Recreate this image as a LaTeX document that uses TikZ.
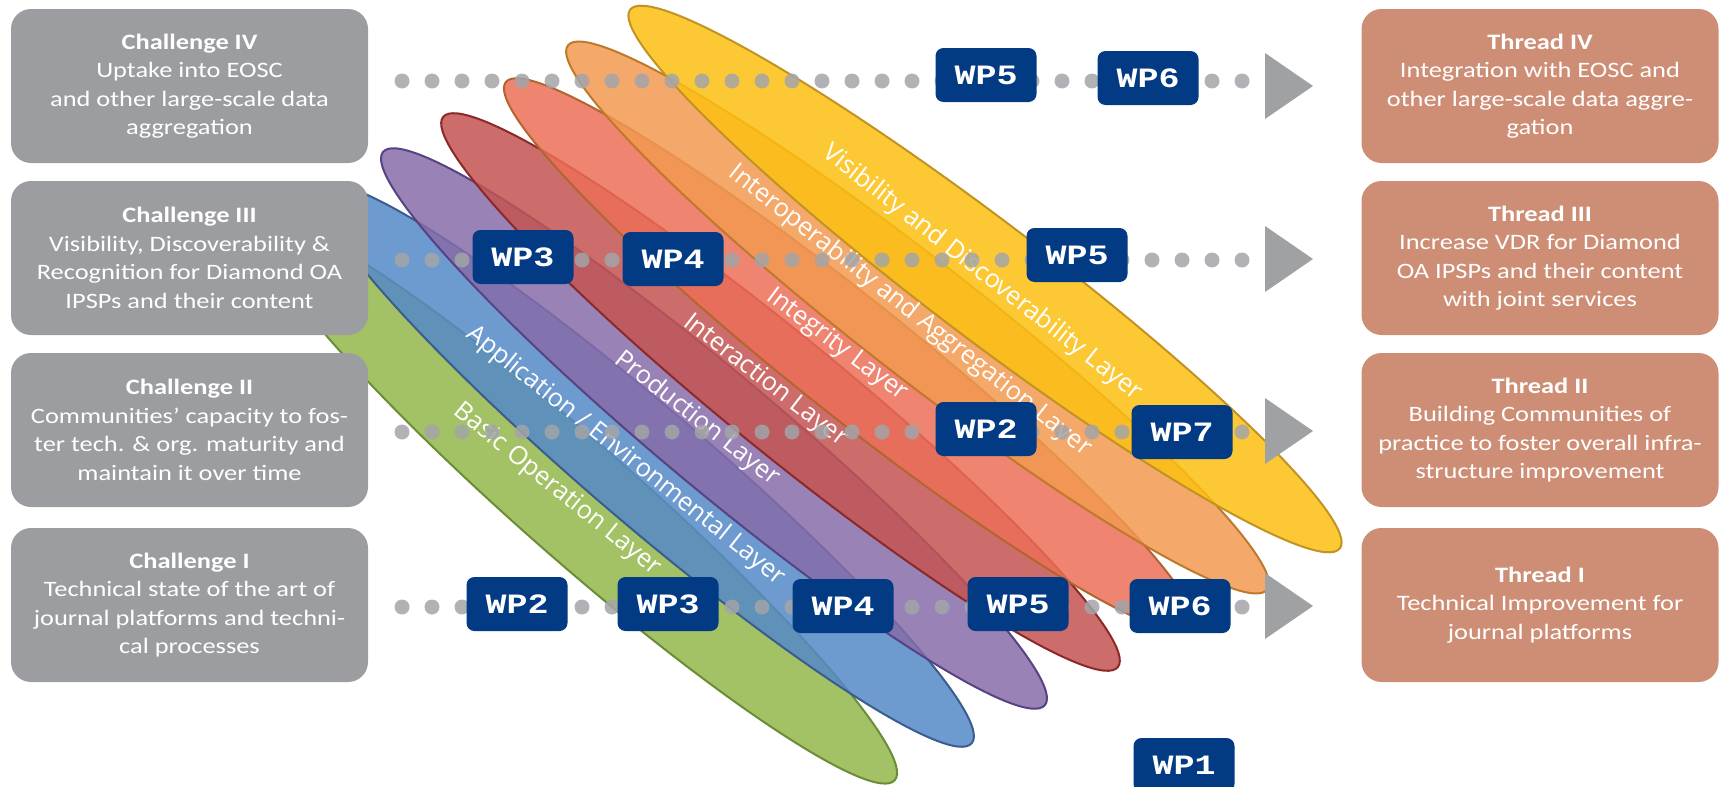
\documentclass[tikz,border=0pt]{standalone}
\usepackage{fontspec}
\setmainfont{Carlito}[FakeStretch=1.2]
\newfontfamily\layerfont{Open Sans}
\newfontfamily\wpfont{Liberation Mono}[FakeStretch=1.25]
\usetikzlibrary{shapes.geometric}

\definecolor{challengeGray}{HTML}{9B9DA0}
\definecolor{threadBrown}{HTML}{CE8E76}
\definecolor{wpBlue}{HTML}{023A84}
\definecolor{dotGray}{HTML}{A3A5A8}
\definecolor{arrowGray}{HTML}{A0A1A3}
\definecolor{layGreen}{HTML}{93B64A}
\definecolor{layGreenLine}{HTML}{6A8D36}
\definecolor{layBlue}{HTML}{5489C8}
\definecolor{layBlueLine}{HTML}{3A5C8E}
\definecolor{layPurple}{HTML}{866CA9}
\definecolor{layPurpleLine}{HTML}{574283}
\definecolor{layRed}{HTML}{C35452}
\definecolor{layRedLine}{HTML}{8C2828}
\definecolor{laySalmon}{HTML}{EC6E57}
\definecolor{laySalmonLine}{HTML}{B4652E}
\definecolor{layOrange}{HTML}{F29950}
\definecolor{layOrangeLine}{HTML}{BE792B}
\definecolor{layYellow}{HTML}{FCC011}
\definecolor{layYellowLine}{HTML}{C29222}

\begin{document}
\begin{tikzpicture}
[x=0.5pt,y=-0.5pt,%
  challengeDecorate/.style={shape=rectangle,rounded corners=10pt,fill=challengeGray,text=white,
    minimum width=178.5pt,minimum height=77pt,inner sep=0pt,align=center,
    font=\fontsize{11}{14.25}\selectfont},
  threadDecorate/.style={challengeDecorate,fill=threadBrown},
  layerDecorate/.style={shape=ellipse,inner sep=0pt,line width=1pt,fill opacity=0.85,minimum height=58pt},
  labelDecorate/.style={text=white,inner sep=0pt,font=\layerfont\fontsize{12.7}{14}\selectfont},
  wpDecorate/.style={shape=rectangle,rounded corners=4pt,fill=wpBlue,text=white,
    minimum width=50.5pt,minimum height=27pt,inner sep=0pt,
    font=\wpfont\bfseries\fontsize{14}{14}\selectfont},
  dotDecorate/.style={draw=dotGray,draw opacity=0.85,line width=7.5pt,line cap=round,
    dash pattern=on 0pt off 15pt},
  arrowDecorate/.style={shape=isosceles triangle,isosceles triangle stretches,fill=arrowGray,
    minimum width=33pt,minimum height=24pt,inner sep=0pt,outer sep=0pt,anchor=west}]
\useasboundingbox (0,0) rectangle (1720,787);
%% layers, bottom one first
\foreach \nodename/\x/\y/\len/\ang/\colour in {
  basic/577/501/423/41.3/layGreen, appl/646.5/465.5/427.7/40.5/layBlue,
  prod/714/428.5/431.3/39.9/layPurple, interac/780.5/392/435.3/39.2/layRed,
  integ/849/355/438.5/38.5/laySalmon, interop/917.5/317.5/443/37.9/layOrange,
  visib/985/279/445.5/37.2/layYellow}
{
  \node (\nodename) at (\x,\y) [layerDecorate,minimum width=\len pt,rotate=-\ang,
    fill=\colour,draw=\colour Line] {};
}
%% layer names
\foreach \nodename/\x/\y/\ang/\txt in {
  basicName/557/490/39/{Basic Operation Layer},
  applName/626/456/38.6/{Application / Environmental Layer},
  prodName/697/419/38.1/{Production Layer},
  interacName/765/381/37.6/{Interaction Layer},
  integName/837/345/36.9/{Integrity Layer},
  interopName/910/311/38.2/{Interoperability and Aggregation Layer},
  visibName/982/273/38/{Visibility and Discoverability Layer}}
{
  \node (\nodename) at (\x,\y) [labelDecorate,rotate=-\ang] {\txt};
}
%% challenges and threads
\foreach \nodename/\y/\title/\body in {
  chalIV/86/{Challenge IV}/{Uptake into EOSC\\and other large-scale data\\aggregation},
  chalIII/258/{Challenge III}/{Visibility, Discoverability \&\\Recognition for Diamond OA\\IPSPs and their content},
  chalII/430/{Challenge II}/{Communities’ capacity to fos-\\ter tech. \& org. maturity and\\maintain it over time},
  chalI/605/{Challenge I}/{Technical state of the art of\\journal platforms and techni-\\cal processes}}
{
  \node (\nodename) at (189.5,\y) [challengeDecorate] {\textbf{\title}\\\body};
}
\foreach \nodename/\y/\title/\body in {
  threadIV/86/{Thread IV}/{Integration with EOSC and\\other large-scale data aggre-\\gation},
  threadIII/258/{Thread III}/{Increase VDR for Diamond\\OA IPSPs and their content\\with joint services},
  threadII/430/{Thread II}/{Building Communities of\\practice to foster overall infra-\\structure improvement},
  threadI/605/{Thread I}/{Technical Improvement for\\journal platforms}}
{
  \node (\nodename) at (1540,\y) [threadDecorate] {\textbf{\title}\\\body};
}
%% dotted rows with arrow heads
\foreach \row/\y/\ay in {1/607/606, 2/432/431, 3/260/259, 4/81/86}
{
  \coordinate (start\row) at (402,\y);
  \node (arrow\row) at (1265,\ay) [arrowDecorate] {};
  \draw[dotDecorate] (start\row) -- (start\row -| arrow\row.west);
}
%% work packages
\foreach \nodename/\x/\y/\wp in {
  wpIVa/986/75/WP5, wpIVb/1148/78/WP6,
  wpIIIa/523/257/WP3, wpIIIb/673/259/WP4, wpIIIc/1077/255/WP5,
  wpIIa/986/429/WP2, wpIIb/1182/432/WP7,
  wpIa/517/604/WP2, wpIb/668/604/WP3, wpIc/843/606/WP4, wpId/1018/604/WP5, wpIe/1180/606/WP6,
  wpAll/1184/765/WP1}
{
  \node (\nodename) at (\x,\y) [wpDecorate] {\wp};
}
\end{tikzpicture}
\end{document}
